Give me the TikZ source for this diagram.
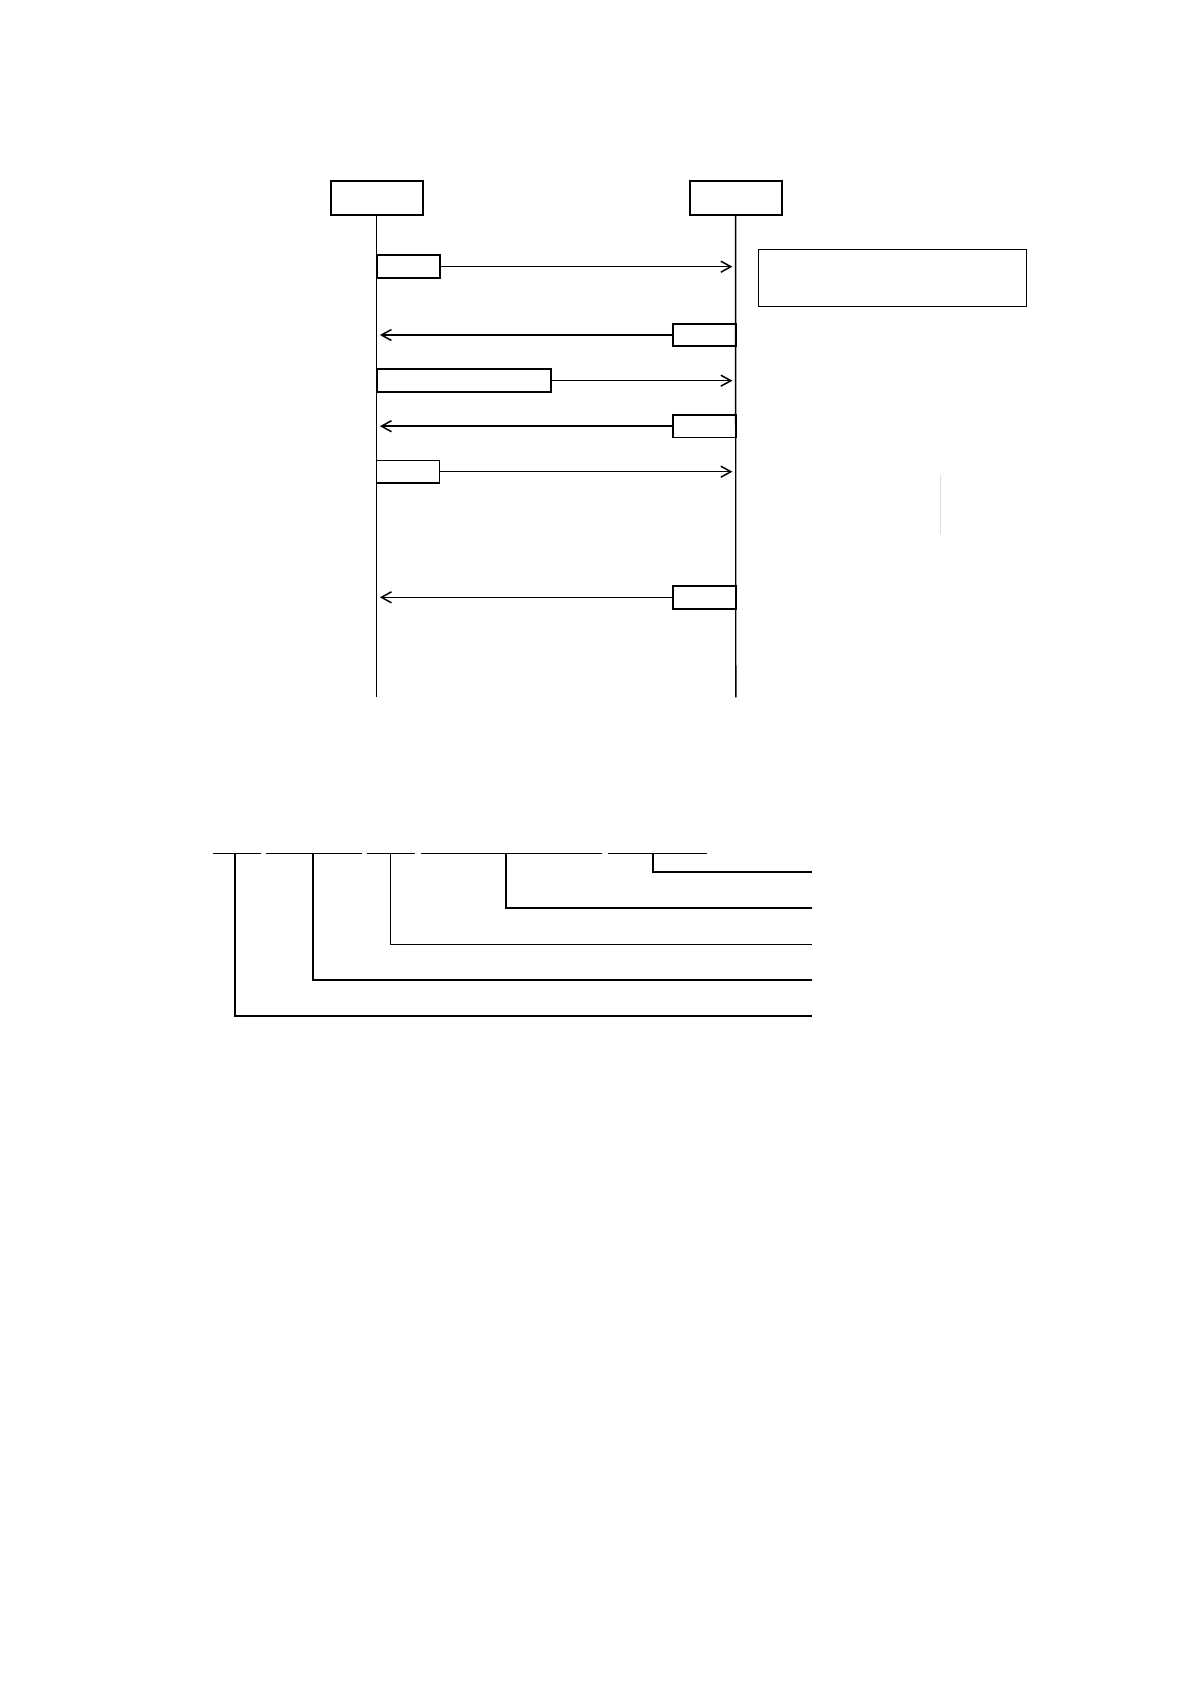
\documentclass[tikz,border=0pt]{standalone}
\usetikzlibrary{arrows.meta}
\begin{document}
\begin{tikzpicture}[x=0.5pt,y=-0.5pt,
  hdr/.style={draw,line width=0.9pt,rectangle,inner sep=0pt,minimum width=46pt,minimum height=17pt},
  msgbox/.style={draw,line width=0.9pt,rectangle,inner sep=0pt,minimum height=11.3pt},
  notebox/.style={draw,line width=0.7pt,rectangle,inner sep=0pt,minimum width=134.2pt,minimum height=28.7pt},
  life/.style={line width=0.7pt},
  msg/.style={line width=0.75pt,-{Straight Barb[length=5pt,width=5.5pt,line width=0.75pt]},shorten >=1.6pt},
  brk/.style={line width=0.75pt},
  brkv/.style={line width=0.95pt}]
\useasboundingbox (0,0) rectangle (1190,1684);
% headers
\node[hdr] (A) at (376.7,198.3) {};
\node[hdr] (B) at (735.6,198.3) {};
\coordinate (Aend) at (376.7,697.3);
\coordinate (Bend) at (735.8,697.3);
\draw[life] (A.south) -- (Aend);
\draw[life] (B.south) -- (Bend);
% note
\node[notebox] (N) at (892.5,278) {};
% messages
\node[msgbox,minimum width=31.5pt] (m1) at (408.2,266.7) {};
\node[msgbox,minimum width=31.5pt] (m2) at (704.2,335) {};
\node[msgbox,minimum width=87.3pt] (m3) at (464,380.7) {};
\node[msgbox,minimum width=31.5pt] (m4) at (704.2,426.2) {};
\node[msgbox,minimum width=31.5pt] (m5) at (408,471.7) {};
\node[msgbox,minimum width=31.5pt] (m6) at (704.3,597.3) {};
\draw[msg] (m1.east) -- (m1.east -| B);
\draw[msg] (m2.west) -- (m2.west -| A);
\draw[msg] (m3.east) -- (m3.east -| B);
\draw[msg] (m4.west) -- (m4.west -| A);
\draw[msg] (m5.east) -- (m5.east -| B);
\draw[msg] (m6.west) -- (m6.west -| A);
% faint mark
\draw[gray!25,line width=0.6pt] (940.7,475) -- (940.7,534.3);
% bracket structure
\draw[brk] (213.3,853.3) -- (261,853.3);
\draw[brk] (266,853.3) -- (361.7,853.3);
\draw[brk] (366.7,853.3) -- (415,853.3);
\draw[brk] (421,853.3) -- (602.3,853.3);
\draw[brk] (607.7,853.3) -- (706.7,853.3);
\draw[brkv] (653,853.3) -- (653,872.3) -- (812,872.3);
\draw[brkv] (505.7,853.3) -- (505.7,908.3) -- (812,908.3);
\draw[brk] (390.3,853.3) -- (390.3,944.3) -- (812,944.3);
\draw[brkv] (313,853.3) -- (313,980.3) -- (812,980.3);
\draw[brkv] (235,853.3) -- (235,1016.3) -- (812,1016.3);
\end{tikzpicture}
\end{document}
